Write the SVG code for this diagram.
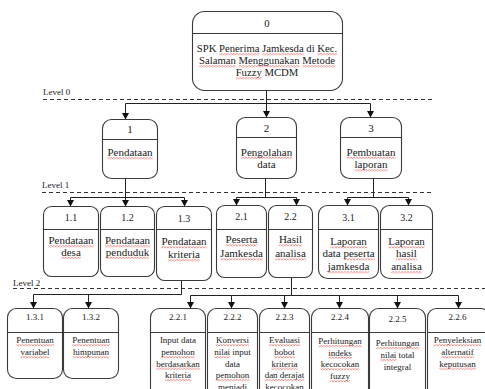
<svg xmlns="http://www.w3.org/2000/svg" width="485" height="389" viewBox="0 0 485 389">
<style>
.box{fill:#fff;stroke:#3a3a3a;stroke-width:1.1}
.hd{stroke:#3a3a3a;stroke-width:1}
.t{font-family:"Liberation Serif","Times New Roman",serif;fill:#1a1a1a;text-anchor:middle}
.f107{font-size:10.7px}
.f11{font-size:11px}
.f10{font-size:10px}
.f9{font-size:9px}
.lv{font-family:"Liberation Serif","Times New Roman",serif;font-size:9px;fill:#1a1a1a}
.dash{stroke:#333;stroke-width:1;stroke-dasharray:4 3;fill:none}
.c{stroke:#222;stroke-width:1;fill:none}
.ca{stroke:#222;stroke-width:1;fill:none;marker-end:url(#ah)}
.sq{fill:url(#wave)}
</style>
<defs>
<marker id="ah" markerWidth="7" markerHeight="7" refX="6" refY="3.5" orient="auto" markerUnits="userSpaceOnUse">
<path d="M0,0 L6.5,3.5 L0,7 Z" fill="#111"/>
</marker>
<pattern id="wave" width="3" height="2" patternUnits="userSpaceOnUse">
<path d="M0,1.7 L1.5,0.3 L3,1.7" fill="none" stroke="#e0403a" stroke-width="0.7"/>
</pattern>
</defs>

<!-- level separators -->
<g id="levels">
<text class="lv" x="43" y="95">Level 0</text>
<line class="dash" x1="43" y1="99.5" x2="433" y2="99.5"/>
<text class="lv" x="42" y="188">Level 1</text>
<line class="dash" x1="42" y1="192.5" x2="433" y2="192.5"/>
<text class="lv" x="13" y="286">Level 2</text>
<line class="dash" x1="13" y1="288.5" x2="485" y2="288.5"/>
</g>

<!-- connectors -->
<g id="connectors">
<polyline class="c" points="266.5,90 266.5,103.5"/>
<polyline class="c" points="125.5,103.5 370.5,103.5"/>
<line class="ca" x1="125.5" y1="103.5" x2="125.5" y2="119"/>
<line class="ca" x1="266.5" y1="103.5" x2="266.5" y2="117"/>
<line class="ca" x1="370.5" y1="103.5" x2="370.5" y2="117"/>

<polyline class="c" points="125.5,178 125.5,197.5"/>
<polyline class="c" points="70.5,197.5 184.5,197.5"/>
<line class="ca" x1="70.5" y1="197.5" x2="70.5" y2="206"/>
<line class="ca" x1="125.5" y1="197.5" x2="125.5" y2="206"/>
<line class="ca" x1="184.5" y1="197.5" x2="184.5" y2="206"/>

<polyline class="c" points="265.5,178 265.5,197.5"/>
<polyline class="c" points="236.5,197.5 296.5,197.5"/>
<line class="ca" x1="236.5" y1="197.5" x2="236.5" y2="205"/>
<line class="ca" x1="296.5" y1="197.5" x2="296.5" y2="205"/>

<polyline class="c" points="373.5,178 373.5,197.5"/>
<polyline class="c" points="347.5,197.5 408.5,197.5"/>
<line class="ca" x1="347.5" y1="197.5" x2="347.5" y2="205"/>
<line class="ca" x1="408.5" y1="197.5" x2="408.5" y2="205"/>

<polyline class="c" points="181.5,281 181.5,294.5 33.5,294.5"/>
<line class="ca" x1="33.5" y1="294.5" x2="33.5" y2="308"/>
<line class="ca" x1="88.5" y1="294.5" x2="88.5" y2="308"/>

<polyline class="c" points="291.5,277 291.5,295.5"/>
<polyline class="c" points="190.5,295.5 458.5,295.5"/>
<line class="ca" x1="190.5" y1="295.5" x2="190.5" y2="308"/>
<line class="ca" x1="231.5" y1="295.5" x2="231.5" y2="308"/>
<line class="ca" x1="284.5" y1="295.5" x2="284.5" y2="308"/>
<line class="ca" x1="339.5" y1="295.5" x2="339.5" y2="308"/>
<line class="ca" x1="397.5" y1="295.5" x2="397.5" y2="308"/>
<line class="ca" x1="458.5" y1="295.5" x2="458.5" y2="308"/>
</g>

<!-- top node -->
<g id="n0">
<rect class="box" x="192.5" y="11.5" width="150" height="79" rx="12"/>
<line class="hd" x1="192.5" y1="33.5" x2="342.5" y2="33.5"/>
<text class="t f107" x="267" y="27">0</text>
<text class="t f107" x="267" y="52">SPK Penerima Jamkesda di Kec.</text>
<text class="t f107" x="267" y="64">Salaman Menggunakan Metode</text>
<text class="t f107" x="267" y="76">Fuzzy MCDM</text>
<rect class="sq" x="219" y="53.3" width="40.4" height="2"/>
<rect class="sq" x="262.1" y="53.3" width="41.6" height="2"/>
<rect class="sq" x="317.4" y="53.3" width="19.9" height="2"/>
<rect class="sq" x="199" y="65.3" width="36.8" height="2"/>
<rect class="sq" x="238.5" y="65.3" width="61.2" height="2"/>
<rect class="sq" x="302.4" y="65.3" width="32.7" height="2"/>
<rect class="sq" x="235.6" y="77.3" width="26.2" height="2"/>
</g>

<!-- level 1 -->
<g id="n1">
<rect class="box" x="102.5" y="119.5" width="55" height="59" rx="9"/>
<line class="hd" x1="102.5" y1="139.5" x2="157.5" y2="139.5"/>
<text class="t f11" x="130" y="133">1</text>
<text class="t f11" x="130" y="156">Pendataan</text>
<rect class="sq" x="107.4" y="157.3" width="45.2" height="2"/>
</g>
<g id="n2">
<rect class="box" x="236.5" y="117.5" width="60" height="61" rx="9"/>
<line class="hd" x1="236.5" y1="137.5" x2="296.5" y2="137.5"/>
<text class="t f11" x="266.5" y="131.5">2</text>
<text class="t f11" x="266.5" y="155.5">Pengolahan</text>
<text class="t f11" x="266.5" y="168">data</text>
<rect class="sq" x="240.8" y="156.8" width="51.3" height="2"/>
</g>
<g id="n3">
<rect class="box" x="340.5" y="117.5" width="61" height="61" rx="9"/>
<line class="hd" x1="340.5" y1="137.5" x2="401.5" y2="137.5"/>
<text class="t f11" x="371" y="131.5">3</text>
<text class="t f11" x="371" y="155.5">Pembuatan</text>
<text class="t f11" x="371" y="168">laporan</text>
<rect class="sq" x="346.6" y="156.8" width="48.9" height="2"/>
<rect class="sq" x="354.5" y="169.3" width="33" height="2"/>
</g>

<!-- level 1 children -->
<g id="n1_1">
<rect class="box" x="43.5" y="206.5" width="55" height="70" rx="8"/>
<line class="hd" x1="43.5" y1="229.5" x2="98.5" y2="229.5"/>
<text class="t f10" x="71" y="221">1.1</text>
<text class="t f11" x="71" y="244">Pendataan</text>
<text class="t f11" x="71" y="255.5">desa</text>
<rect class="sq" x="48.4" y="245.3" width="45.2" height="2"/>
<rect class="sq" x="61.2" y="256.8" width="19.6" height="2"/>
</g>
<g id="n1_2">
<rect class="box" x="100.5" y="206.5" width="54" height="70" rx="8"/>
<line class="hd" x1="100.5" y1="229.5" x2="154.5" y2="229.5"/>
<text class="t f10" x="127.5" y="221">1.2</text>
<text class="t f11" x="127.5" y="244">Pendataan</text>
<text class="t f11" x="127.5" y="255.5">penduduk</text>
<rect class="sq" x="104.9" y="245.3" width="45.2" height="2"/>
<rect class="sq" x="105.8" y="256.8" width="43.4" height="2"/>
</g>
<g id="n1_3">
<rect class="box" x="156.5" y="206.5" width="55" height="74" rx="8"/>
<line class="hd" x1="156.5" y1="229.5" x2="211.5" y2="229.5"/>
<text class="t f10" x="184" y="222">1.3</text>
<text class="t f11" x="184" y="245">Pendataan</text>
<text class="t f11" x="184" y="258">kriteria</text>
<rect class="sq" x="161.4" y="246.3" width="45.2" height="2"/>
<rect class="sq" x="168.1" y="259.3" width="31.8" height="2"/>
</g>
<g id="n2_1">
<rect class="box" x="216.5" y="205.5" width="50" height="72" rx="8"/>
<line class="hd" x1="216.5" y1="229.5" x2="266.5" y2="229.5"/>
<text class="t f10" x="241.5" y="220">2.1</text>
<text class="t f11" x="241.5" y="243">Peserta</text>
<text class="t f11" x="241.5" y="257">Jamkesda</text>
<rect class="sq" x="225.6" y="244.3" width="31.8" height="2"/>
<rect class="sq" x="220.1" y="258.3" width="42.8" height="2"/>
</g>
<g id="n2_2">
<rect class="box" x="268.5" y="205.5" width="44" height="72" rx="8"/>
<line class="hd" x1="268.5" y1="229.5" x2="312.5" y2="229.5"/>
<text class="t f10" x="290.5" y="220">2.2</text>
<text class="t f11" x="290.5" y="243">Hasil</text>
<text class="t f11" x="290.5" y="257">analisa</text>
<rect class="sq" x="278.9" y="244.3" width="23.2" height="2"/>
<rect class="sq" x="275.2" y="258.3" width="30.6" height="2"/>
</g>
<g id="n3_1">
<rect class="box" x="318.5" y="205.5" width="60" height="73" rx="9"/>
<line class="hd" x1="318.5" y1="229.5" x2="378.5" y2="229.5"/>
<text class="t f10" x="348.5" y="221">3.1</text>
<text class="t f11" x="348.5" y="245">Laporan</text>
<text class="t f11" x="348.5" y="257">data peserta</text>
<text class="t f11" x="348.5" y="270">jamkesda</text>
<rect class="sq" x="330.2" y="246.3" width="36.7" height="2"/>
<rect class="sq" x="343.5" y="258.3" width="31.2" height="2"/>
<rect class="sq" x="327.7" y="271.3" width="41.6" height="2"/>
</g>
<g id="n3_2">
<rect class="box" x="380.5" y="205.5" width="52" height="73" rx="9"/>
<line class="hd" x1="380.5" y1="229.5" x2="432.5" y2="229.5"/>
<text class="t f10" x="406.5" y="221">3.2</text>
<text class="t f11" x="406.5" y="245">Laporan</text>
<text class="t f11" x="406.5" y="257">hasil</text>
<text class="t f11" x="406.5" y="270">analisa</text>
<rect class="sq" x="388.2" y="246.3" width="36.7" height="2"/>
<rect class="sq" x="396.1" y="258.3" width="20.8" height="2"/>
<rect class="sq" x="391.2" y="271.3" width="30.6" height="2"/>
</g>

<!-- level 2 -->
<g id="n1_3_1">
<rect class="box" x="7.5" y="308.5" width="55" height="70" rx="9"/>
<line class="hd" x1="7.5" y1="332.5" x2="62.5" y2="332.5"/>
<text class="t f9" x="35" y="320">1.3.1</text>
<text class="t f9" x="35" y="343">Penentuan</text>
<text class="t f9" x="35" y="355">variabel</text>
<rect class="sq" x="16.3" y="344.2" width="37.5" height="2"/>
<rect class="sq" x="20.5" y="356.2" width="29" height="2"/>
</g>
<g id="n1_3_2">
<rect class="box" x="63.5" y="308.5" width="55" height="70" rx="9"/>
<line class="hd" x1="63.5" y1="332.5" x2="118.5" y2="332.5"/>
<text class="t f9" x="91" y="320">1.3.2</text>
<text class="t f9" x="91" y="343">Penentuan</text>
<text class="t f9" x="91" y="355">himpunan</text>
<rect class="sq" x="72.3" y="344.2" width="37.5" height="2"/>
<rect class="sq" x="73" y="356.2" width="36" height="2"/>
</g>
<g id="n2_2_1">
<rect class="box" x="150.5" y="308.5" width="55" height="90" rx="9"/>
<line class="hd" x1="150.5" y1="332.5" x2="205.5" y2="332.5"/>
<text class="t f9" x="178" y="320">2.2.1</text>
<text class="t f9" x="178" y="343">Input data</text>
<text class="t f9" x="178" y="355">pemohon</text>
<text class="t f9" x="178" y="366.5">berdasarkan</text>
<text class="t f9" x="178" y="378">kriteria</text>
<rect class="sq" x="161.3" y="356.2" width="33.5" height="2"/>
<rect class="sq" x="156.3" y="367.7" width="43.5" height="2"/>
<rect class="sq" x="165" y="379.2" width="26" height="2"/>
</g>
<g id="n2_2_2">
<rect class="box" x="207.5" y="308.5" width="50" height="90" rx="9"/>
<line class="hd" x1="207.5" y1="332.5" x2="257.5" y2="332.5"/>
<text class="t f9" x="232.5" y="320">2.2.2</text>
<text class="t f9" x="232.5" y="343">Konversi</text>
<text class="t f9" x="232.5" y="355">nilai input</text>
<text class="t f9" x="232.5" y="366.5">data</text>
<text class="t f9" x="232.5" y="378">pemohon</text>
<text class="t f9" x="232.5" y="390">menjadi</text>
<rect class="sq" x="216" y="344.2" width="33" height="2"/>
<rect class="sq" x="214.1" y="356.2" width="16" height="2"/>
<rect class="sq" x="215.8" y="379.2" width="33.5" height="2"/>
</g>
<g id="n2_2_3">
<rect class="box" x="259.5" y="308.5" width="50" height="90" rx="9"/>
<line class="hd" x1="259.5" y1="332.5" x2="309.5" y2="332.5"/>
<text class="t f9" x="284.5" y="320">2.2.3</text>
<text class="t f9" x="284.5" y="343">Evaluasi</text>
<text class="t f9" x="284.5" y="355">bobot</text>
<text class="t f9" x="284.5" y="366.5">kriteria</text>
<text class="t f9" x="284.5" y="378">dan derajat</text>
<text class="t f9" x="284.5" y="390">kecocokan</text>
<rect class="sq" x="269" y="344.2" width="31" height="2"/>
<rect class="sq" x="274.3" y="356.2" width="20.5" height="2"/>
<rect class="sq" x="271.5" y="367.7" width="26" height="2"/>
<rect class="sq" x="264.6" y="379.2" width="39.7" height="2"/>
</g>
<g id="n2_2_4">
<rect class="box" x="311.5" y="308.5" width="57" height="90" rx="9"/>
<line class="hd" x1="311.5" y1="332.5" x2="368.5" y2="332.5"/>
<text class="t f9" x="340" y="320">2.2.4</text>
<text class="t f9" x="340" y="344">Perhitungan</text>
<text class="t f9" x="340" y="355.5">indeks</text>
<text class="t f9" x="340" y="367">kecocokan</text>
<text class="t f9" x="340" y="379">fuzzy</text>
<rect class="sq" x="318.3" y="345.2" width="43.5" height="2"/>
<rect class="sq" x="328.3" y="356.7" width="23.5" height="2"/>
<rect class="sq" x="320.8" y="368.2" width="38.5" height="2"/>
<rect class="sq" x="330" y="380.2" width="20" height="2"/>
</g>
<g id="n2_2_5">
<rect class="box" x="369.5" y="308.5" width="56" height="90" rx="9"/>
<line class="hd" x1="369.5" y1="332.5" x2="425.5" y2="332.5"/>
<text class="t f9" x="397.5" y="322">2.2.5</text>
<text class="t f9" x="397.5" y="346">Perhitungan</text>
<text class="t f9" x="397.5" y="358">nilai total</text>
<text class="t f9" x="397.5" y="369.5">integral</text>
<rect class="sq" x="375.8" y="347.2" width="43.5" height="2"/>
<rect class="sq" x="380.4" y="359.2" width="16" height="2"/>
</g>
<g id="n2_2_6">
<rect class="box" x="427.5" y="308.5" width="62" height="90" rx="9"/>
<line class="hd" x1="427.5" y1="332.5" x2="489.5" y2="332.5"/>
<text class="t f9" x="457.5" y="320">2.2.6</text>
<text class="t f9" x="457.5" y="343">Penyeleksian</text>
<text class="t f9" x="457.5" y="355">alternatif</text>
<text class="t f9" x="457.5" y="366.5">keputusan</text>
<rect class="sq" x="433.8" y="344.2" width="47.5" height="2"/>
<rect class="sq" x="441.3" y="356.2" width="32.5" height="2"/>
<rect class="sq" x="439.3" y="367.7" width="36.5" height="2"/>
</g>
</svg>
